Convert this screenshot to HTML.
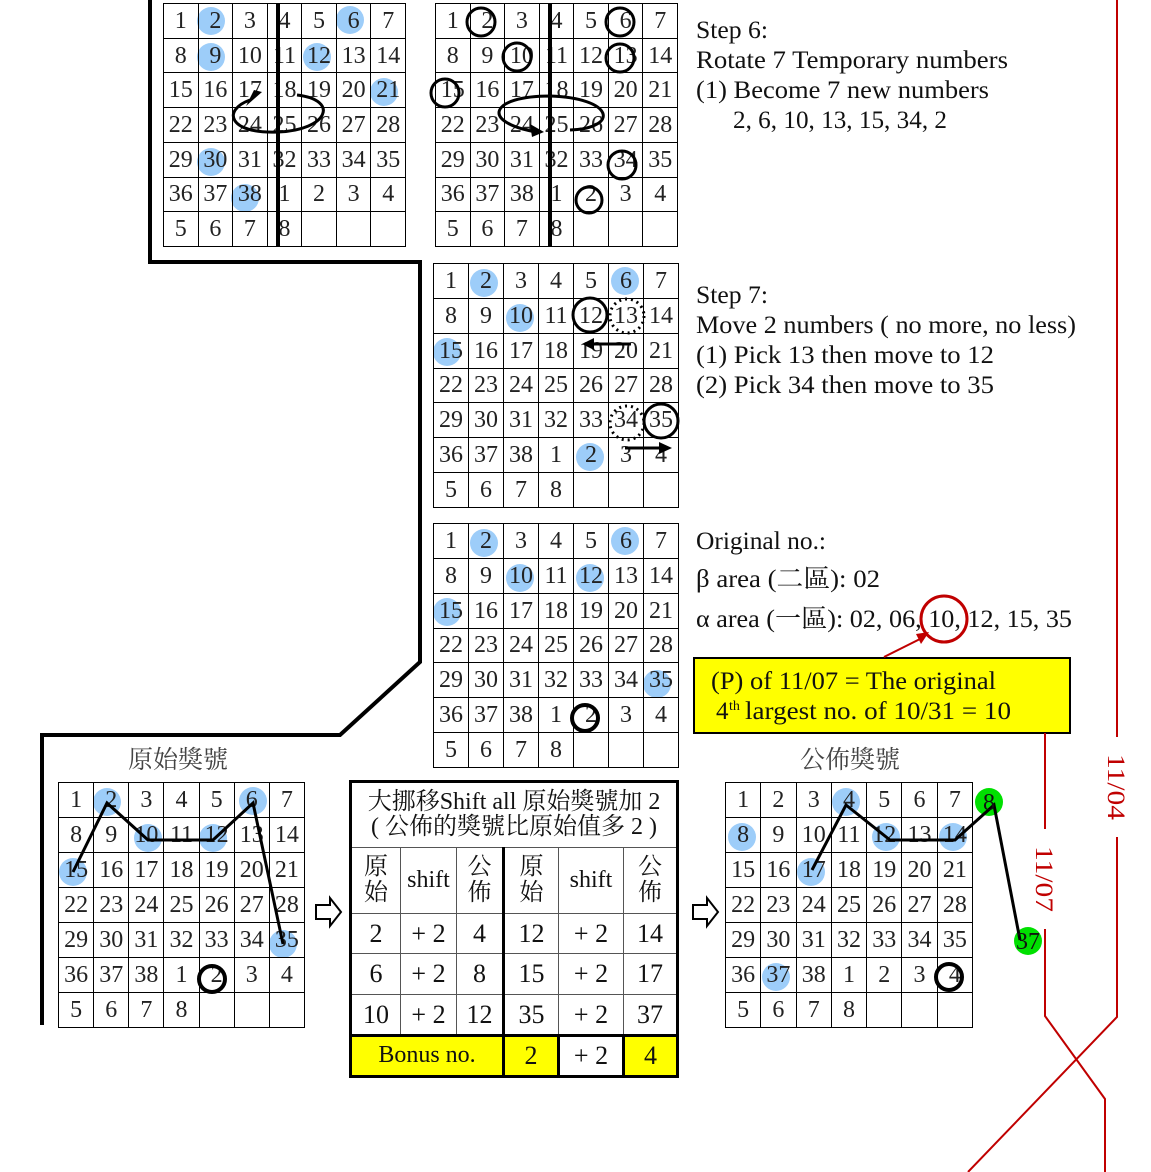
<!DOCTYPE html>
<html><head><meta charset="utf-8"><style>
body{margin:0;width:1151px;height:1172px;background:#fff;position:relative;overflow:hidden}
.l{position:absolute;left:0;top:0}
table.g{position:absolute;border-collapse:collapse;table-layout:fixed;z-index:1}
.g td{border:1.5px solid #000;text-align:center;padding:0;font:24px "Liberation Serif",serif;color:#222;line-height:1}
table.t{position:absolute;left:349px;top:780px;width:327px;height:296px;border-collapse:collapse;table-layout:fixed;z-index:1;border:3px solid #000}
.t td{border:1.5px solid #555;text-align:center;padding:0;font:26px "Liberation Serif","Noto Serif CJK SC",serif;color:#111;line-height:1.05}
.t td.s{font-size:24px}
</style></head><body>
<svg class="l" width="1151" height="1172" style="z-index:0">
<g fill="#9dcdf9">
<circle cx="211" cy="21" r="14"/><circle cx="350" cy="20" r="14"/><circle cx="211" cy="57" r="14"/><circle cx="317" cy="57" r="14"/><circle cx="384" cy="92" r="14"/><circle cx="211" cy="162" r="14"/><circle cx="245" cy="198" r="14"/>
<circle cx="484" cy="283" r="14"/><circle cx="625" cy="281" r="14"/><circle cx="520" cy="318" r="14"/><circle cx="447" cy="352" r="14"/><circle cx="590" cy="457" r="14"/>
<circle cx="484" cy="543" r="14"/><circle cx="625" cy="541" r="14"/><circle cx="520" cy="578" r="14"/><circle cx="590" cy="578" r="14"/><circle cx="447" cy="612" r="14"/><circle cx="657" cy="684" r="14"/>
<circle cx="107" cy="802" r="14"/><circle cx="253" cy="801" r="14"/><circle cx="148" cy="838" r="14"/><circle cx="213" cy="838" r="14"/><circle cx="73" cy="872" r="14"/><circle cx="283" cy="944" r="14"/>
<circle cx="846" cy="802" r="14"/><circle cx="742" cy="837" r="14"/><circle cx="886" cy="837" r="14"/><circle cx="953" cy="837" r="14"/><circle cx="811" cy="872" r="14"/><circle cx="776" cy="977" r="14"/>
</g>
<g fill="#00e000"><circle cx="989" cy="802" r="14"/><circle cx="1028" cy="941" r="14"/></g>
<rect x="694" y="658" width="376" height="75" fill="#ffff00"/>
</svg>

<table class="g" style="left:163px;top:3px;width:243px;height:244px">
<tr><td>1<td>2<td>3<td>4<td>5<td>6<td>7</tr><tr><td>8<td>9<td>10<td>11<td>12<td>13<td>14</tr><tr><td>15<td>16<td>17<td>18<td>19<td>20<td>21</tr><tr><td>22<td>23<td>24<td>25<td>26<td>27<td>28</tr><tr><td>29<td>30<td>31<td>32<td>33<td>34<td>35</tr><tr><td>36<td>37<td>38<td>1<td>2<td>3<td>4</tr><tr><td>5<td>6<td>7<td>8<td><td><td></tr></table>
<table class="g" style="left:435px;top:3px;width:243px;height:244px">
<tr><td>1<td>2<td>3<td>4<td>5<td>6<td>7</tr><tr><td>8<td>9<td>10<td>11<td>12<td>13<td>14</tr><tr><td>15<td>16<td>17<td>18<td>19<td>20<td>21</tr><tr><td>22<td>23<td>24<td>25<td>26<td>27<td>28</tr><tr><td>29<td>30<td>31<td>32<td>33<td>34<td>35</tr><tr><td>36<td>37<td>38<td>1<td>2<td>3<td>4</tr><tr><td>5<td>6<td>7<td>8<td><td><td></tr></table>
<table class="g" style="left:433px;top:263px;width:246px;height:245px">
<tr><td>1<td>2<td>3<td>4<td>5<td>6<td>7</tr><tr><td>8<td>9<td>10<td>11<td>12<td>13<td>14</tr><tr><td>15<td>16<td>17<td>18<td>19<td>20<td>21</tr><tr><td>22<td>23<td>24<td>25<td>26<td>27<td>28</tr><tr><td>29<td>30<td>31<td>32<td>33<td>34<td>35</tr><tr><td>36<td>37<td>38<td>1<td>2<td>3<td>4</tr><tr><td>5<td>6<td>7<td>8<td><td><td></tr></table>
<table class="g" style="left:433px;top:523px;width:246px;height:245px">
<tr><td>1<td>2<td>3<td>4<td>5<td>6<td>7</tr><tr><td>8<td>9<td>10<td>11<td>12<td>13<td>14</tr><tr><td>15<td>16<td>17<td>18<td>19<td>20<td>21</tr><tr><td>22<td>23<td>24<td>25<td>26<td>27<td>28</tr><tr><td>29<td>30<td>31<td>32<td>33<td>34<td>35</tr><tr><td>36<td>37<td>38<td>1<td>2<td>3<td>4</tr><tr><td>5<td>6<td>7<td>8<td><td><td></tr></table>
<table class="g" style="left:58px;top:782px;width:247px;height:246px">
<tr><td>1<td>2<td>3<td>4<td>5<td>6<td>7</tr><tr><td>8<td>9<td>10<td>11<td>12<td>13<td>14</tr><tr><td>15<td>16<td>17<td>18<td>19<td>20<td>21</tr><tr><td>22<td>23<td>24<td>25<td>26<td>27<td>28</tr><tr><td>29<td>30<td>31<td>32<td>33<td>34<td>35</tr><tr><td>36<td>37<td>38<td>1<td>2<td>3<td>4</tr><tr><td>5<td>6<td>7<td>8<td><td><td></tr></table>
<table class="g" style="left:725px;top:782px;width:248px;height:246px">
<tr><td>1<td>2<td>3<td>4<td>5<td>6<td>7</tr><tr><td>8<td>9<td>10<td>11<td>12<td>13<td>14</tr><tr><td>15<td>16<td>17<td>18<td>19<td>20<td>21</tr><tr><td>22<td>23<td>24<td>25<td>26<td>27<td>28</tr><tr><td>29<td>30<td>31<td>32<td>33<td>34<td>35</tr><tr><td>36<td>37<td>38<td>1<td>2<td>3<td>4</tr><tr><td>5<td>6<td>7<td>8<td><td><td></tr></table>

<table class="t">
<colgroup><col style="width:50px"><col style="width:56px"><col style="width:47px"><col style="width:55px"><col style="width:65px"><col style="width:54px"></colgroup>
<tr style="height:66px"><td colspan="6" class="s">大挪移Shift all 原始獎號加 2<br>( 公佈的獎號比原始值多 2 )</td></tr>
<tr style="height:66px"><td class="s">原<br>始</td><td class="s">shift</td><td class="s" style="border-right:3px solid #000">公<br>佈</td><td class="s">原<br>始</td><td class="s">shift</td><td class="s">公<br>佈</td></tr>
<tr style="height:40px"><td>2</td><td>+ 2</td><td style="border-right:3px solid #000">4</td><td>12</td><td>+ 2</td><td>14</td></tr>
<tr style="height:41px"><td>6</td><td>+ 2</td><td style="border-right:3px solid #000">8</td><td>15</td><td>+ 2</td><td>17</td></tr>
<tr style="height:41px"><td>10</td><td>+ 2</td><td style="border-right:3px solid #000">12</td><td>35</td><td>+ 2</td><td>37</td></tr>
<tr style="height:41px"><td colspan="3" class="s" style="background:#ff0;border:3px solid #000">Bonus no.</td><td style="background:#ff0;border:3px solid #000">2</td><td style="border:3px solid #000">+ 2</td><td style="background:#ff0;border:3px solid #000">4</td></tr>
</table>

<svg class="l" width="1151" height="1172" style="z-index:2">
<g stroke="#000" stroke-width="4" fill="none">
<path d="M150 0V262H420V662L340 735H42V1025"/>
<line x1="278" y1="3" x2="278" y2="246"/><line x1="550" y1="3" x2="550" y2="246"/>
</g>
<g stroke="#000" stroke-width="3" fill="none">
<path d="M297 95 C340 100 328 130 278 132 C228 134 222 110 250 100"/>
<path d="M570 130 C620 128 614 98 550 96 C490 96 480 122 536 132"/>
<circle cx="481" cy="22" r="14"/><circle cx="620" cy="22" r="14"/><circle cx="517" cy="57" r="14"/><circle cx="620" cy="58" r="14"/><circle cx="445" cy="93" r="14"/><circle cx="622" cy="165" r="14"/><circle cx="589" cy="200" r="13"/>
<circle cx="590" cy="315" r="17"/><circle cx="661" cy="421" r="17"/>
<line x1="631" y1="344" x2="592" y2="344"/><line x1="625" y1="448" x2="660" y2="448"/>
</g>
<g stroke="#000" stroke-width="3" stroke-dasharray="2 4" fill="none"><circle cx="627" cy="316" r="17"/><circle cx="627" cy="423" r="17"/></g>
<g fill="#000"><path d="M246 106 L262 92 L254 90 Z"/><path d="M544 132 L530 124 L532 137 Z"/><path d="M582 344 L594 338 L594 350 Z"/><path d="M672 448 L659 442 L659 454 Z"/></g>
<g stroke="#000" stroke-width="4" fill="none"><circle cx="585" cy="718" r="13"/><circle cx="212" cy="979" r="13"/><circle cx="949" cy="977" r="13"/></g>
<g stroke="#000" stroke-width="3" fill="none">
<polyline points="73,872 107,803 148,840 213,840 253,803 283,944"/>
<polyline points="812,870 846,805 890,840 955,840 994,805 1020,940"/>
</g>
<g stroke="#000" stroke-width="2" fill="#fff">
<path d="M316 905H330V898L341 912L330 926V919H316Z"/>
<path d="M693 905H707V898L718 912L707 926V919H693Z"/>
</g>
<rect x="694" y="658" width="376" height="75" fill="none" stroke="#000" stroke-width="2"/>
<g stroke="#c00000" stroke-width="2" fill="none">
<circle cx="944" cy="619" r="23" stroke-width="3"/>
<line x1="884" y1="657" x2="922" y2="638"/>
<path d="M1045 733V829M1045 929V1016L1105 1099V1172"/>
<path d="M1117 0V737M1117 837V1017L968 1172"/>
</g>
<path d="M929 632L916 634L921 644Z" fill="#c00000"/>
<g font-family="Liberation Serif,'Noto Serif CJK SC',serif" font-size="25" fill="#111" lengthAdjust="spacingAndGlyphs">
<text x="696" y="38" textLength="72" lengthAdjust="spacingAndGlyphs">Step 6:</text>
<text x="696" y="68" textLength="312" lengthAdjust="spacingAndGlyphs">Rotate 7 Temporary numbers</text>
<text x="696" y="98" textLength="293" lengthAdjust="spacingAndGlyphs">(1) Become 7 new numbers</text>
<text x="733" y="128" textLength="214" lengthAdjust="spacingAndGlyphs">2, 6, 10, 13, 15, 34, 2</text>
<text x="696" y="303" textLength="72" lengthAdjust="spacingAndGlyphs">Step 7:</text>
<text x="696" y="333" textLength="380" lengthAdjust="spacingAndGlyphs">Move 2 numbers ( no more, no less)</text>
<text x="696" y="363" textLength="298" lengthAdjust="spacingAndGlyphs">(1)  Pick 13 then move to 12</text>
<text x="696" y="393" textLength="298" lengthAdjust="spacingAndGlyphs">(2)  Pick 34 then move to 35</text>
<text x="696" y="549" textLength="130" lengthAdjust="spacingAndGlyphs">Original no.:</text>
<text x="696" y="587" textLength="184" lengthAdjust="spacingAndGlyphs">β area (二區): 02</text>
<text x="696" y="627" textLength="376" lengthAdjust="spacingAndGlyphs">α area (一區): 02, 06, 10, 12, 15, 35</text>
<text x="711" y="689" textLength="285" lengthAdjust="spacingAndGlyphs">(P) of 11/07 = The original</text>
<text x="716" y="719">4</text>
<text x="729" y="710" font-size="14">th</text>
<text x="745" y="719" textLength="266" lengthAdjust="spacingAndGlyphs">largest no. of 10/31 = 10</text>
<text x="178" y="768" text-anchor="middle" fill="#444">原始獎號</text>
<text x="850" y="768" text-anchor="middle" fill="#444">公佈獎號</text>
</g>
<g font-family="Liberation Serif,serif" font-size="25" fill="#c00000">
<text transform="translate(1108,754) rotate(90)" textLength="66" lengthAdjust="spacingAndGlyphs">11/04</text>
<text transform="translate(1036,846) rotate(90)" textLength="66" lengthAdjust="spacingAndGlyphs">11/07</text>
</g>
<g font-family="Liberation Serif,serif" font-size="24" fill="#111" text-anchor="middle">
<text x="989" y="810">8</text><text x="1028" y="949">37</text>
</g>
</svg>
</body></html>
